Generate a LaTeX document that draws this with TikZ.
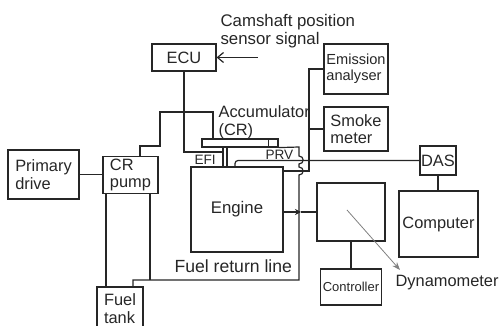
\documentclass[tikz,border=0pt]{standalone}
\usepackage{fontspec}
\setmainfont{Liberation Sans}
\usetikzlibrary{arrows.meta}

\begin{document}
\begin{tikzpicture}[x=0.5pt, y=-0.5pt, line width=0.6pt, color=black!85,
  blk/.style={draw, inner sep=1pt, align=left, font=\fontsize{8.2}{8.8}\selectfont},
  lbl/.style={inner sep=0pt, align=left, font=\fontsize{8.2}{8.8}\selectfont},
  small/.style={inner sep=0pt, font=\fontsize{6.8}{7}\selectfont}]
  \useasboundingbox (0,0) rectangle (500,326);
  \clip (0,0) rectangle (500,326);

  % boxes
  \node[blk, minimum width=32pt, minimum height=13.5pt] (ecu) at (184,57.5) {ECU};
  \node[blk, minimum width=32pt, minimum height=25pt, font=\fontsize{7.3}{8.2}\selectfont] (ema) at (356,69) {Emission\\analyser};
  \node[blk, minimum width=32pt, minimum height=22pt] (smk) at (356,129) {Smoke\\meter};
  \node[blk, minimum width=35.5pt, minimum height=24.5pt] (prim) at (43.5,174.5) {Primary\\drive};
  \node[blk, minimum width=27.5pt, minimum height=18pt] (pump) at (130.5,175) {CR\\pump};
  \node[blk, minimum width=23pt, minimum height=21.5pt] (tank) at (120,308.5) {Fuel\\tank};
  \node[blk, minimum width=46pt, minimum height=42.5pt, font=\fontsize{8.4}{9}\selectfont] (eng) at (237,209.5) {Engine};
  \node[blk, minimum width=34pt, minimum height=29pt] (dyn) at (351,212) {};
  \node[blk, minimum width=30pt, minimum height=18pt, font=\fontsize{6.5}{7}\selectfont] (ctl) at (351,287) {Controller};
  \node[blk, inner sep=0pt, minimum width=18pt, minimum height=14.5pt] (das) at (438,160.5) {DAS};
  \node[blk, minimum width=39.5pt, minimum height=33pt] (pc) at (438.5,224) {Computer};
  \node[draw, inner sep=0pt, minimum width=38pt, minimum height=4pt] (acc) at (240,143) {};
  \draw ([xshift=-5pt]acc.north east) -- ([xshift=-5pt]acc.south east);

  % labels
  \node[lbl, anchor=north west, font=\fontsize{8.4}{9}\selectfont] (cam) at (220,14) {Camshaft position\\sensor signal};
  \node[lbl, anchor=north west] (acclbl) at (218,105) {Accumulator\\(CR)};
  \node[small, anchor=base west] (efilbl) at (194,165) {EFI};
  \node[small, anchor=base west] (prvlbl) at (265,160) {PRV};
  \node[lbl, anchor=base west, font=\fontsize{8.8}{9}\selectfont] (retlbl) at (174,273) {Fuel return line};
  \node[lbl, anchor=west] (dynlbl) at (395,283) {Dynamometer};

  % camshaft signal and ECU to injector
  \coordinate (camtip) at (258,57.5);
  \draw[-{Straight Barb[length=3pt,width=5pt]}] (camtip) -- (ecu.east);
  \coordinate (inj1) at (223,152);
  \coordinate (inj2) at (227,152);
  \draw (inj1 |- acc.south) -- (inj1 |- eng.north);
  \draw (inj2 |- acc.south) -- (inj2 |- eng.north);
  \draw (ecu.south) |- (inj1);

  % pump to rail, drive, tank
  \coordinate (p1) at (140,146);
  \coordinate (p2) at (160,112);
  \coordinate (p3) at (213,112);
  \draw (pump.north -| p1) -- (p1) -| (p2) -- (p3) -- (p3 |- acc.north);
  \draw (prim.east) -- (prim.east -| pump.west);
  \coordinate (t1) at (106,280);
  \coordinate (t2) at (150,280);
  \coordinate (ret) at (299,280);
  \coordinate (retin) at (133,280);
  \draw (pump.south -| t1) -- (tank.north -| t1);
  \draw (pump.south -| t2) -- (t2);

  % fuel return line from PRV
  \draw (acc.south east) -- (299,147) -- (299,156)
    .. controls (304.5,156) and (304.5,164) .. (299,164) -- (299,167)
    .. controls (304.5,167) and (304.5,175) .. (299,175)
    -- (ret) -- (retin) -- (tank.north -| retin);

  % engine signal to DAS, exhaust to analysers
  \coordinate (sig) at (235,160.5);
  \draw[rounded corners=1.5pt] (eng.north -| sig) |- (das.west);
  \coordinate (ex) at (309,171);
  \draw (eng.east |- ex) -- (ex) |- (ema.west);
  \draw (ex |- smk.west) -- (smk.west);

  % shaft, controller, computer
  \coordinate (sh) at (301,212);
  \draw[-{Stealth[length=3pt,width=3pt]}] (eng.east |- sh) -- (sh);
  \draw (sh) -- (dyn.west |- sh);
  \draw (dyn.south) -- (ctl.north);
  \draw (das.south) -- (das.south |- pc.north);

  % pointer to dynamometer
  \coordinate (dynpt) at (347,210);
  \coordinate (dyntip) at (400,270);
  \draw[gray, line width=0.4pt, -{Stealth[length=4pt,width=3pt]}] (dynpt) -- (dyntip);
\end{tikzpicture}
\end{document}
